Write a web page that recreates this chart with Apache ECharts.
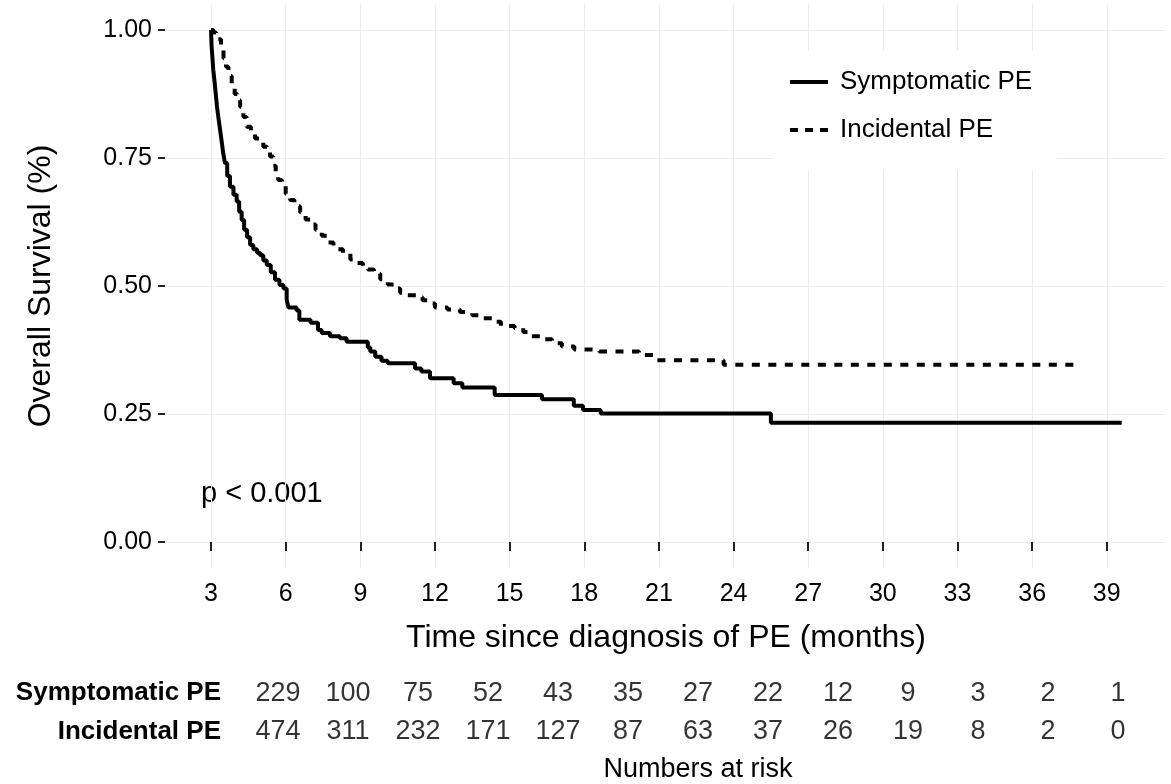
<!DOCTYPE html>
<html>
<head>
<meta charset="utf-8">
<script src="https://cdn.jsdelivr.net/npm/echarts@6/dist/echarts.min.js"></script>
<style>
html,body{margin:0;padding:0;background:#fff;}
#chart{width:1171px;height:784px;}
</style>
</head>
<body>
<div id="chart"></div>
<script>
// ---- data ----
const groups = ['Symptomatic PE', 'Incidental PE'];
const xTicks = [3, 6, 9, 12, 15, 18, 21, 24, 27, 30, 33, 36, 39];
const yTicks = [0, 0.25, 0.5, 0.75, 1];
// Kaplan-Meier steps: [time (months), survival]
const symptomaticCurve = [
  [3,1.0],[3.02,0.97],[3.05,0.95],[3.09,0.922],[3.14,0.9],[3.19,0.875],[3.24,0.85],[3.29,0.831],
  [3.35,0.81],[3.42,0.785],[3.49,0.759],[3.56,0.74],[3.65,0.715],[3.76,0.694],[3.9,0.678],
  [4.03,0.665],[4.13,0.645],[4.23,0.629],[4.33,0.61],[4.45,0.595],[4.57,0.58],[4.7,0.572],
  [4.85,0.565],[4.97,0.56],[5.1,0.55],[5.24,0.541],[5.4,0.527],[5.57,0.512],[5.75,0.502],[5.91,0.495],
  [6.04,0.473],[6.11,0.458],[6.44,0.452],[6.55,0.434],[7.0,0.428],[7.3,0.414],[7.45,0.408],
  [7.78,0.402],[8.18,0.398],[8.45,0.391],[9.3,0.38],[9.4,0.372],[9.6,0.362],[9.85,0.354],
  [10.1,0.349],[11.2,0.339],[11.45,0.333],[11.8,0.32],[12.75,0.31],[13.1,0.302],[14.4,0.287],
  [16.3,0.279],[17.58,0.266],[17.95,0.258],[18.66,0.251],[25.5,0.233],[39.6,0.233]
];
const incidentalCurve = [
  [3,1.0],[3.1,0.995],[3.2,0.99],[3.29,0.982],[3.4,0.965],[3.5,0.945],[3.6,0.928],[3.7,0.91],
  [3.83,0.889],[3.95,0.875],[4.05,0.863],[4.17,0.85],[4.3,0.83],[4.43,0.811],[4.6,0.797],
  [4.77,0.788],[4.95,0.78],[5.1,0.772],[5.25,0.762],[5.37,0.753],[5.5,0.735],[5.6,0.72],
  [5.7,0.707],[5.85,0.695],[6.0,0.68],[6.18,0.668],[6.35,0.656],[6.58,0.644],[6.8,0.63],[7.0,0.62],
  [7.2,0.61],[7.45,0.598],[7.65,0.585],[7.92,0.572],[8.3,0.564],[8.6,0.552],[8.8,0.545],
  [9.1,0.538],[9.3,0.532],[9.55,0.524],[9.8,0.513],[10.1,0.503],[10.35,0.495],[10.6,0.487],
  [10.9,0.482],[11.25,0.478],[11.5,0.472],[11.7,0.466],[12.0,0.458],[12.5,0.454],[13.0,0.449],
  [13.5,0.443],[13.9,0.437],[14.3,0.43],[14.65,0.422],[15.2,0.418],[15.55,0.41],[15.8,0.402],
  [16.4,0.396],[16.7,0.388],[17.1,0.382],[17.6,0.376],[18.6,0.372],[20.2,0.365],[20.8,0.362],
  [20.91,0.355],[23.6,0.346],[37.9,0.346]
];
const riskTimes = [3, 6, 9, 12, 15, 18, 21, 24, 27, 30, 33, 36, 39];
const riskSymptomatic = [229, 100, 75, 52, 43, 35, 27, 22, 12, 9, 3, 2, 1];
const riskIncidental = [474, 311, 232, 171, 127, 87, 63, 37, 26, 19, 8, 2, 0];
const pValueText = 'p < 0.001';

// ---- chart ----
const FONT = '"Liberation Sans", Arial, Helvetica, sans-serif';
const TXT = '#000';
const chart = echarts.init(document.getElementById('chart'), null, {renderer: 'canvas'});

const riskData = [];
riskTimes.forEach((t, i) => {
  riskData.push([t, groups[0], riskSymptomatic[i]]);
  riskData.push([t, groups[1], riskIncidental[i]]);
});

const solidIcon = 'path://M0,0h38v4h-38z';
const dashIcon = 'path://M0,0h8v4h-8zM15,0h8v4h-8zM30,0h8v4h-8z';

chart.setOption({
  animation: false,
  backgroundColor: '#fff',
  textStyle: {fontFamily: FONT},
  grid: [
    {left: 167, right: 6, top: 4.4, height: 563.2, containLabel: false},
    {left: 278, right: 53, top: 674, height: 80, containLabel: false}
  ],
  legend: {
    data: [{name: groups[0], icon: solidIcon}, {name: groups[1], icon: dashIcon}],
    orient: 'vertical',
    left: 773, top: 50,
    backgroundColor: '#fff',
    padding: [18, 24, 26, 17],
    itemWidth: 38, itemHeight: 4,
    itemGap: 20,
    itemStyle: {color: '#000', borderWidth: 0},
    textStyle: {fontSize: 26, color: TXT, fontFamily: FONT, lineHeight: 28, padding: [0, 0, 0, 7]}
  },
  xAxis: [
    {
      gridIndex: 0, type: 'value', min: 1.23, max: 41.34,
      offset: 1,
      axisLine: {show: false},
      axisTick: {show: true, length: 9, customValues: xTicks, lineStyle: {color: '#222', width: 2}},
      axisLabel: {customValues: xTicks, fontSize: 25, color: TXT, margin: 13, fontFamily: FONT},
      splitLine: {show: true, lineStyle: {color: '#ebebeb', width: 1}},
      name: 'Time since diagnosis of PE (months)',
      nameLocation: 'middle', nameGap: 54,
      nameTextStyle: {fontSize: 32, color: TXT, fontFamily: FONT}
    },
    {
      gridIndex: 1, type: 'value', min: 3, max: 39,
      axisLine: {show: false}, axisTick: {show: false}, axisLabel: {show: false},
      splitLine: {show: false},
      name: 'Numbers at risk', nameLocation: 'middle', nameGap: 5,
      nameTextStyle: {fontSize: 27, color: TXT, fontFamily: FONT}
    }
  ],
  yAxis: [
    {
      gridIndex: 0, type: 'value', min: -0.05, max: 1.05,
      offset: 2,
      axisLine: {show: false},
      axisTick: {show: true, length: 7, customValues: yTicks, lineStyle: {color: '#222', width: 2}},
      axisLabel: {customValues: yTicks, fontSize: 25, color: TXT, margin: 13, fontFamily: FONT,
        formatter: v => v.toFixed(2)},
      splitLine: {show: true, lineStyle: {color: '#ebebeb', width: 1}},
      name: 'Overall Survival (%)',
      nameLocation: 'middle', nameGap: 108,
      nameTextStyle: {fontSize: 32, color: TXT, fontFamily: FONT}
    },
    {
      gridIndex: 1, type: 'category', data: groups, inverse: true,
      axisLine: {show: false}, axisTick: {show: false},
      axisLabel: {fontSize: 26, fontWeight: 'bold', color: TXT, margin: 57, fontFamily: FONT},
      splitLine: {show: false}
    }
  ],
  graphic: [
    {type: 'text', left: 201, top: 479, style: {text: pValueText, fontSize: 29, fill: TXT, fontFamily: FONT}}
  ],
  series: [
    {
      name: groups[0], type: 'line', xAxisIndex: 0, yAxisIndex: 0,
      data: symptomaticCurve, step: 'end', symbol: 'none', showSymbol: false,
      lineStyle: {color: '#000', width: 4, type: 'solid'},
      itemStyle: {color: '#000'}
    },
    {
      name: groups[1], type: 'line', xAxisIndex: 0, yAxisIndex: 0,
      data: incidentalCurve, step: 'end', symbol: 'none', showSymbol: false,
      lineStyle: {color: '#000', width: 4, type: [8, 8.5]},
      itemStyle: {color: '#000'}
    },
    {
      type: 'scatter', xAxisIndex: 1, yAxisIndex: 1,
      data: riskData, symbolSize: 0, silent: true,
      encode: {x: 0, y: 1},
      label: {show: true, position: 'inside', fontSize: 27, color: TXT, fontFamily: FONT,
        formatter: p => String(p.value[2])}
    }
  ]
});
</script>
</body>
</html>
